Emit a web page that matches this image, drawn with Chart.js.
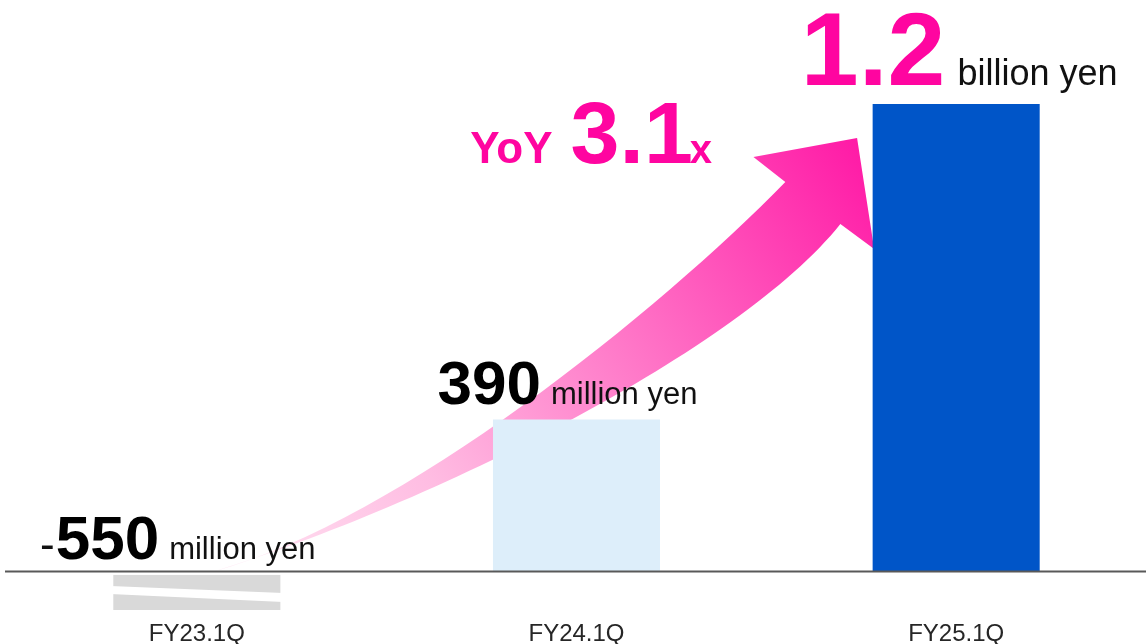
<!DOCTYPE html>
<html>
<head>
<meta charset="utf-8">
<script src="https://cdn.jsdelivr.net/npm/chart.js@4/dist/chart.umd.min.js"></script>
<style>
  html, body { margin: 0; padding: 0; background: #fff; overflow: hidden; }
</style>
</head>
<body>
<canvas id="chart" width="1146" height="644"></canvas>
<script>
// quarterly operating profit, million yen
const categories = ['FY23.1Q', 'FY24.1Q', 'FY25.1Q'];
const profit = [-550, 390, 1200];
const barColors = ['#d9d9d9', '#ddeefa', '#0055c8'];
const yMin = -99;   // negative bar is shown cut off
const yMax = 1467;

const FONT = 'Arial, "Liberation Sans", Helvetica, sans-serif';
const PINK = '#ff05a0';

// growth arrow, in (category index, million yen)
const ARROW = {
    upper: [[0.045, 0], [0.537, 132], [1.221, 671], [1.55, 1000]],
    lower: [[0.045, 0], [0.616, 171], [1.432, 569], [1.695, 892]],
    head: [[1.466, 1064], [1.739, 1113], [1.784, 828]]
};

function valueParts(v) {
    const a = Math.abs(v);
    if (a >= 1000) return { sign: v < 0 ? '-' : '', num: (a / 1000).toFixed(1), unit: 'billion yen' };
    return { sign: v < 0 ? '-' : '', num: String(a), unit: 'million yen' };
}

// draw text pieces one after another
function drawRuns(ctx, runs, x, baseY, align) {
    let total = 0;
    runs.forEach(r => {
        ctx.font = r.font;
        r.w = ctx.measureText(r.text).width;
        total += r.w + (r.gap || 0);
    });
    let cx = align === 'center' ? x - total / 2 : x;
    ctx.textAlign = 'left';
    ctx.textBaseline = 'alphabetic';
    runs.forEach(r => {
        ctx.font = r.font;
        ctx.fillStyle = r.color;
        ctx.fillText(r.text, cx, baseY);
        cx += r.w + (r.gap || 0);
    });
}

const arrowPlugin = {
    id: 'arrow',
    beforeDatasetsDraw(chart) {
        const { ctx, scales: { x, y } } = chart;
        const p = pt => [x.getPixelForValue(pt[0]), y.getPixelForValue(pt[1])];
        const u = ARROW.upper.map(p), l = ARROW.lower.map(p), h = ARROW.head.map(p);

        const grad = ctx.createLinearGradient(u[0][0], u[0][1], h[1][0], h[1][1]);
        grad.addColorStop(0, '#ffe6f3');
        grad.addColorStop(0.3, '#ffbce2');
        grad.addColorStop(0.6, '#ff78c8');
        grad.addColorStop(1, '#ff1aa6');

        ctx.save();
        ctx.beginPath();
        ctx.moveTo(u[0][0], u[0][1]);
        ctx.bezierCurveTo(u[1][0], u[1][1], u[2][0], u[2][1], u[3][0], u[3][1]);
        h.forEach(q => ctx.lineTo(q[0], q[1]));
        ctx.lineTo(l[3][0], l[3][1]);
        ctx.bezierCurveTo(l[2][0], l[2][1], l[1][0], l[1][1], l[0][0], l[0][1]);
        ctx.closePath();
        ctx.fillStyle = grad;
        ctx.fill();
        ctx.restore();
    }
};

const annotatePlugin = {
    id: 'annotate',
    afterDatasetsDraw(chart) {
        const { ctx, chartArea, scales: { x, y } } = chart;
        const bars = chart.getDatasetMeta(0).data;
        const zero = y.getPixelForValue(0);

        ctx.save();

        // break marks on the cut-off negative bar
        profit.forEach((v, i) => {
            if (v >= yMin) return;
            const b = bars[i];
            const left = b.x - b.width / 2 - 3, right = b.x + b.width / 2 + 3;
            ctx.fillStyle = '#ffffff';
            ctx.fillRect(left, zero, right - left, 3.5);
            ctx.beginPath();
            ctx.moveTo(left, zero + 14.5);
            ctx.lineTo(right, zero + 21.5);
            ctx.lineTo(right, zero + 30.5);
            ctx.lineTo(left, zero + 22.5);
            ctx.closePath();
            ctx.fill();
        });

        // baseline
        ctx.strokeStyle = '#595959';
        ctx.lineWidth = 2;
        ctx.beginPath();
        ctx.moveTo(5, zero);
        ctx.lineTo(chartArea.right, zero);
        ctx.stroke();

        // value labels
        const dx = [-19, -9, 3];
        profit.forEach((v, i) => {
            const b = bars[i];
            const parts = valueParts(v);
            const runs = [];
            let baseY;
            if (parts.unit === 'billion yen') {
                runs.push({ text: parts.num, font: 'bold 104px ' + FONT, color: PINK, gap: 12 });
                runs.push({ text: parts.unit, font: '36px ' + FONT, color: '#111' });
                baseY = y.getPixelForValue(v) - 19;
            } else {
                if (parts.sign) runs.push({ text: parts.sign, font: '44px ' + FONT, color: '#111', gap: 1 });
                runs.push({ text: parts.num, font: 'bold 62px ' + FONT, color: '#000', gap: 10 });
                runs.push({ text: parts.unit, font: '31px ' + FONT, color: '#111' });
                baseY = (v < 0 ? zero : y.getPixelForValue(v)) - (v < 0 ? 12 : 16);
            }
            drawRuns(ctx, runs, b.x + dx[i], baseY, 'center');
        });

        // growth callout
        const ratio = (profit[2] / profit[1]).toFixed(1);
        drawRuns(ctx, [
            { text: 'YoY', font: 'bold 44px ' + FONT, color: PINK, gap: 18 },
            { text: ratio, font: 'bold 88px ' + FONT, color: PINK, gap: -3 },
            { text: 'x', font: 'bold 40px ' + FONT, color: PINK }
        ], x.getPixelForValue(0.72), y.getPixelForValue(1048), 'left');

        ctx.restore();
    }
};

new Chart(document.getElementById('chart'), {
    type: 'bar',
    data: {
        labels: categories,
        datasets: [{
            data: profit,
            backgroundColor: barColors,
            borderWidth: 0,
            barPercentage: 0.44,
            categoryPercentage: 1,
            clip: 0
        }]
    },
    options: {
        responsive: false,
        animation: false,
        devicePixelRatio: 1,
        layout: { padding: { left: 7, right: 0, top: 0, bottom: 0 } },
        plugins: {
            legend: { display: false },
            tooltip: { enabled: false }
        },
        scales: {
            x: {
                grid: { display: false },
                border: { display: false },
                ticks: {
                    color: '#262626',
                    padding: 4,
                    font: { family: FONT, size: 24, lineHeight: 1 }
                },
                afterFit(scale) { scale.height = 34; }
            },
            y: {
                display: false,
                min: yMin,
                max: yMax
            }
        }
    },
    plugins: [arrowPlugin, annotatePlugin]
});
</script>
</body>
</html>
